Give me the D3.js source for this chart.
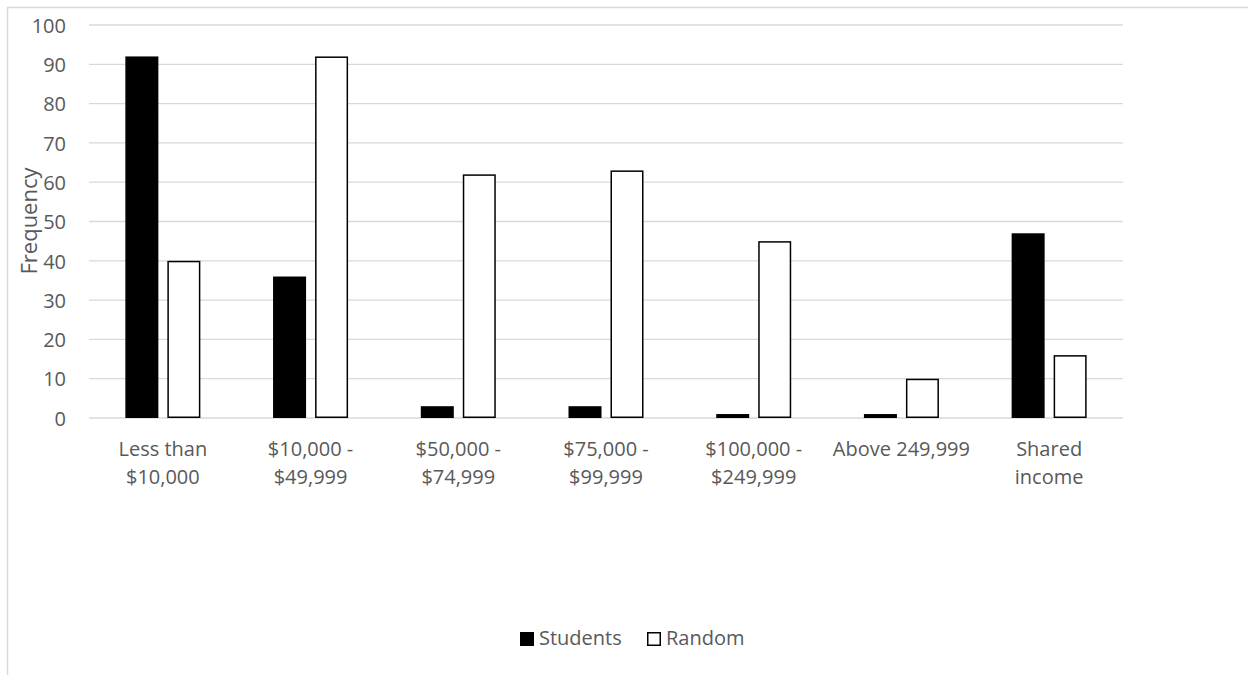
<!DOCTYPE html>
<html>
<head>
<meta charset="utf-8">
<script src="https://cdn.jsdelivr.net/npm/d3@7"></script>
<style>
  html, body { margin: 0; padding: 0; background: #fff; }
  svg { display: block; }
  text { font-family: "Open Sans", Lato, sans-serif; fill: #595959; }
</style>
</head>
<body>
<svg id="chart" width="1248" height="675"></svg>
<script>
// Household income distribution: students vs random sample
const categories = [
  ["Less than", "$10,000"],
  ["$10,000 -", "$49,999"],
  ["$50,000 -", "$74,999"],
  ["$75,000 -", "$99,999"],
  ["$100,000 -", "$249,999"],
  ["Above 249,999"],
  ["Shared", "income"]
];
const seriesNames = ["Students", "Random"];
const students = [92, 36, 3, 3, 1, 1, 47];
const random = [40, 92, 62, 63, 45, 10, 16];
const yTicks = [0, 10, 20, 30, 40, 50, 60, 70, 80, 90, 100];

const svg = d3.select("#chart");
const plot = { left: 89, right: 1123, top: 25, bottom: 418 };
const fontSize = 20;

// Outer chart frame (runs off the right and bottom edges)
svg.append("rect")
  .attr("x", 7.5).attr("y", 7.5)
  .attr("width", 1300).attr("height", 800)
  .attr("fill", "none").attr("stroke", "#d9d9d9").attr("stroke-width", 1.5);

const idx = categories.map((d, i) => i);
const x = d3.scaleBand().domain(idx).range([plot.left, plot.right]).paddingInner(0).paddingOuter(0);
const y = d3.scaleLinear().domain([0, 100]).range([plot.bottom, plot.top]);

// Gridlines
svg.append("g").selectAll("line").data(yTicks).join("line")
  .attr("x1", plot.left).attr("x2", plot.right)
  .attr("y1", d => y(d)).attr("y2", d => y(d))
  .attr("stroke", "#d9d9d9").attr("stroke-width", 1.3);

// Y axis labels
const yAxis = d3.axisLeft(y).tickValues(yTicks).tickSize(0).tickPadding(0);
const gy = svg.append("g").attr("transform", "translate(66,0)").call(yAxis);
gy.select(".domain").remove();
gy.selectAll("text")
  .attr("font-family", "'Open Sans', Lato, sans-serif")
  .attr("font-size", fontSize).attr("fill", "#595959").attr("dy", "0.36em");

// Bars: two series per category
const barW = 33, innerGap = 9;
const group = barW * 2 + innerGap;
const offsets = [-group / 2, -group / 2 + barW + innerGap];
const data = [students, random];
const fills = ["#000000", "#ffffff"];

data.forEach((vals, s) => {
  svg.append("g").selectAll("rect").data(vals).join("rect")
    .attr("x", (d, i) => x(i) + x.bandwidth() / 2 + offsets[s] + 0.75)
    .attr("y", d => y(d) + 0.75)
    .attr("width", barW - 1.5)
    .attr("height", d => Math.max(0, y(0) - y(d) - 1.5))
    .attr("fill", fills[s])
    .attr("stroke", "#000").attr("stroke-width", 1.5);
});

// Category labels
const gx = svg.append("g");
categories.forEach((lines, i) => {
  const cx = x(i) + x.bandwidth() / 2;
  const t = gx.append("text")
    .attr("x", cx)
    .attr("y", 456)
    .attr("text-anchor", "middle")
    .attr("font-size", fontSize);
  lines.forEach((ln, k) => {
    t.append("tspan").attr("x", cx).attr("dy", k === 0 ? 0 : 28).text(ln);
  });
});

// Y axis title
svg.append("text")
  .attr("transform", "translate(37,221) rotate(-90)")
  .attr("text-anchor", "middle")
  .attr("font-size", 22)
  .text("Frequency");

// Legend
const legend = svg.append("g");
const legendItems = [
  { name: seriesNames[0], fill: "#000", x: 520 },
  { name: seriesNames[1], fill: "#fff", x: 647 }
];
legendItems.forEach(it => {
  legend.append("rect")
    .attr("x", it.x + 0.75).attr("y", 632.75)
    .attr("width", 12.5).attr("height", 12.5)
    .attr("fill", it.fill).attr("stroke", "#000").attr("stroke-width", 1.5);
  legend.append("text")
    .attr("x", it.x + 19).attr("y", 645)
    .attr("font-size", fontSize)
    .text(it.name);
});
</script>
</body>
</html>
